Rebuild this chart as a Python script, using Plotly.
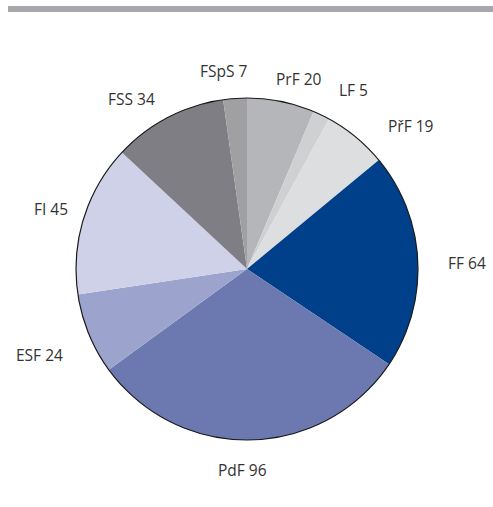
import plotly.graph_objects as go

W, H = 493, 507

# Faculties and counts, clockwise from 12 o'clock
faculties = ["PrF", "LF", "PřF", "FF", "PdF", "ESF", "FI", "FSS", "FSpS"]
counts = [20, 5, 19, 64, 96, 24, 45, 34, 7]
colors = ["#b5b6b9", "#cfd0d2", "#dcdee0", "#003f8a", "#6b79b0",
          "#9ca3cd", "#cfd1e8", "#7f7e85", "#a0a0a3"]

labels = [f"{f} {c}" for f, c in zip(faculties, counts)]

# label centres in pixels (x from left, y from top)
label_px = [(298.5, 79), (353, 89.5), (411, 125.5), (467, 263), (242.5, 470),
            (39.5, 355), (50.5, 208.5), (131, 99), (224, 71.5)]

# pie box in pixels: left, right, top, bottom
pie_box = (76, 418, 98, 440)
pie_domain = dict(x=[pie_box[0] / W, pie_box[1] / W],
                  y=[1 - pie_box[3] / H, 1 - pie_box[2] / H])

fig = go.Figure()
fig.add_trace(go.Pie(
    labels=labels,
    values=counts,
    sort=False,
    direction="clockwise",
    rotation=0,
    marker=dict(colors=colors, line=dict(width=0)),
    textinfo="none",
    showlegend=False,
    hoverinfo="label+percent",
    domain=pie_domain,
))
# thin dark rim around the whole pie
fig.add_trace(go.Pie(
    labels=["total"],
    values=[sum(counts)],
    marker=dict(colors=["rgba(0,0,0,0)"], line=dict(color="#1a1a1a", width=1.2)),
    textinfo="none",
    showlegend=False,
    hoverinfo="skip",
    domain=pie_domain,
))

for text, (px, py) in zip(labels, label_px):
    fig.add_annotation(
        x=px / W, y=1 - py / H, xref="paper", yref="paper",
        text=text, showarrow=False, xanchor="center", yanchor="middle",
        font=dict(family="Open Sans", size=15.5, color="#333333"),
    )

# grey rule across the top
fig.add_shape(type="rect", xref="paper", yref="paper",
              x0=8 / W, x1=1.0, y0=1 - 12 / H, y1=1 - 6 / H,
              fillcolor="#a7a8ab", line=dict(width=0))

fig.update_layout(
    width=W, height=H,
    margin=dict(l=0, r=0, t=0, b=0),
    paper_bgcolor="white",
    plot_bgcolor="white",
)

fig.write_html("out.html")
